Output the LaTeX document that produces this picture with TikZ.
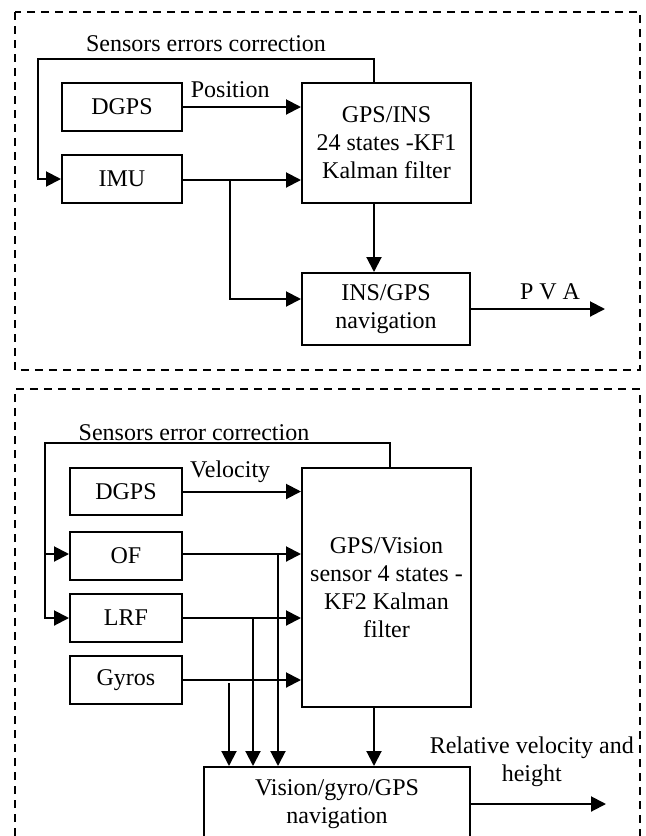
\documentclass[tikz,border=0pt]{standalone}
\usepackage{fontspec}
\setmainfont{Liberation Serif}
\usetikzlibrary{arrows.meta}

\begin{document}
\begin{tikzpicture}[x=0.5pt, y=-0.5pt, line width=1pt,
    font=\fontsize{12}{14}\selectfont,
    >={Triangle[length=7.5pt, width=7.5pt]},
    block/.style={draw, align=center, inner sep=2pt},
    sensor/.style={block, minimum height=24pt},
    dashframe/.style={draw, line width=0.6pt, dash pattern=on 4pt off 3pt}]
    \clip (0,0) rectangle (646,836);

    %% GPS/INS
    \begin{scope}
        % Frame
        \draw[dashframe] (15,12) rectangle (640,370);

        % Blocks
        \node[sensor, minimum width=60pt] (dgpsA) at (122,107) {DGPS};
        \node[sensor, minimum width=60pt] (imu) at (122,179) {IMU};
        \node[block, minimum width=84.5pt, minimum height=60pt] (kfA) at (386.5,143) {GPS/INS\\24 states -KF1\\Kalman filter};
        \node[block, minimum width=84pt, minimum height=36pt] (navA) at (386,309) {INS/GPS\\navigation};

        % Corners
        \coordinate (imuB) at (230,180);
        \coordinate (imuC) at (230,299);
        \coordinate (fbA) at (374,59);
        \coordinate (fbAl) at (38,59);
        \coordinate (pva) at (605,309);

        % Transitions
        \path[->] (dgpsA.east) edge node[above=1pt, pos=0.4] {Position} (dgpsA.east -| kfA.west);
        \path[->] (imuB -| imu.east) edge (imuB -| kfA.west);
        \draw[->] (imuB) -- (imuC) -- (imuC -| navA.west);
        \path[->] (kfA.south -| fbA) edge (navA.north -| fbA);
        \path[->] (navA.east) edge node[above=0.5pt, pos=0.59] {P V A} (pva);
        \draw[->] (kfA.north -| fbA) -- (fbA) -- (fbAl) |- (imu.west);

        % Labels
        \node[above=0pt] (fbAlbl) at (206,59) {Sensors errors correction};
    \end{scope}

    %% GPS/Vision
    \begin{scope}
        % Frame
        \draw[dashframe] (15,850) |- (640,389) -- (640,850);

        % Blocks
        \node[sensor, minimum width=56pt, minimum height=23.5pt] (dgpsB) at (126,491.5) {DGPS};
        \node[sensor, minimum width=56pt] (of) at (126,556) {OF};
        \node[sensor, minimum width=56pt] (lrf) at (126,617.5) {LRF};
        \node[sensor, minimum width=56pt] (gyros) at (126,680) {Gyros};
        \node[block, minimum width=84.5pt, minimum height=119.5pt] (kfB) at (386.5,587.5) {GPS/Vision\\sensor 4 states -\\KF2 Kalman\\filter};
        \node[block, minimum width=133pt, minimum height=37pt] (navB) at (337,804) {Vision/gyro/GPS\\navigation};

        % Corners
        \coordinate (ofB) at (278,554);
        \coordinate (lrfB) at (253,618);
        \coordinate (gyB) at (229,683);
        \coordinate (fbB) at (390,443);
        \coordinate (fbBl) at (45,443);
        \coordinate (rel) at (606,804);

        % Transitions
        \path[->] (dgpsB.east) edge node[above=0.5pt, pos=0.4] {Velocity} (dgpsB.east -| kfB.west);
        \path[->] (ofB -| of.east) edge (ofB -| kfB.west);
        \path[->] (lrfB -| lrf.east) edge (lrfB -| kfB.west);
        \path[->] (gyros.east) edge (gyros.east -| kfB.west);
        \path[->] (ofB) edge (ofB |- navB.north);
        \path[->] (lrfB) edge (lrfB |- navB.north);
        \path[->] (gyB) edge (gyB |- navB.north);
        \path[->] (kfB.south -| 374,0) edge (navB.north -| 374,0);
        \path[->] (navB.east) edge node[above=5pt, pos=0.45, align=center] {Relative velocity and\\height} (rel);
        \draw[->] (kfB.north -| fbB) -- (fbB) -- (fbBl) |- (lrfB -| lrf.west);
        \draw[->] (fbBl |- ofB) -- (ofB -| of.west);

        % Labels
        \node[above, inner sep=0.5pt] (fbBlbl) at (194,443) {Sensors error correction};
    \end{scope}
\end{tikzpicture}
\end{document}
